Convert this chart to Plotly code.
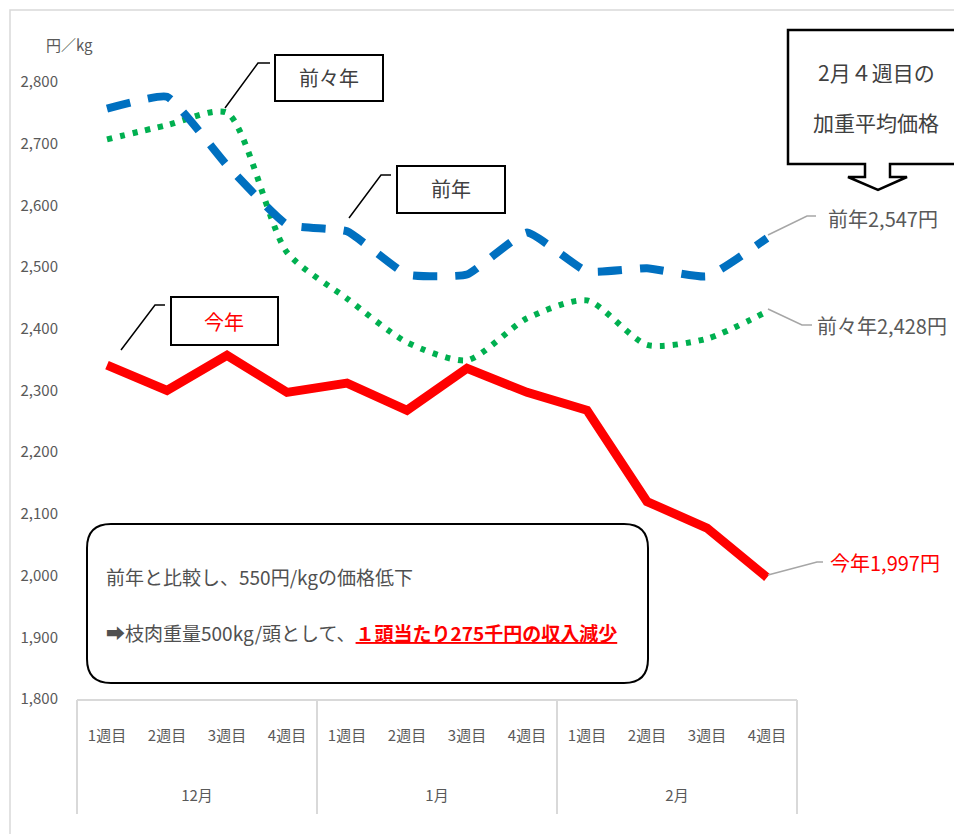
import plotly.graph_objects as go

# ---- data ----
months = ["12月"] * 4 + ["1月"] * 4 + ["2月"] * 4
weeks = ["1週目", "2週目", "3週目", "4週目"] * 3
month_names = ["12月", "1月", "2月"]
this_year = [2341, 2300, 2357, 2297, 2312, 2268, 2336, 2297, 2268, 2120, 2077, 1997]
last_year = [2757, 2776, 2665, 2569, 2558, 2488, 2488, 2556, 2493, 2498, 2485, 2547]
two_years_ago = [2707, 2730, 2750, 2524, 2449, 2378, 2349, 2417, 2446, 2374, 2384, 2428]
y_ticks = list(range(1800, 2801, 100))

categories = [f"{m} {w}" for m, w in zip(months, weeks)]
n = len(categories)
per_month = 4
month_centers = [i * per_month + (per_month - 1) / 2 for i in range(len(month_names))]
month_bounds = [i * per_month - 0.5 for i in range(len(month_names) + 1)]

FONT = "Noto Sans CJK JP, sans-serif"
GRAY = "#595959"
RED = "#FF0000"

OFF = 8  # page body margin
W, H = 962 - OFF, 834 - OFF
L, R, T, B = 77, 797, 82, 699  # plot area in page pixels


def px(x):
    return (x - L) / (R - L)


def py(y):
    return (B - y) / (B - T)


def path(points, close=False):
    s = "M " + " L ".join(f"{px(x):.5f},{py(y):.5f}" for x, y in points)
    return s + (" Z" if close else "")


fig = go.Figure()
fig.add_trace(go.Scatter(
    x=categories, y=two_years_ago, mode="lines", name="前々年",
    line=dict(color="#00B050", width=6, dash="5px,8px", shape="spline", smoothing=0.7),
))
fig.add_trace(go.Scatter(
    x=categories, y=last_year, mode="lines", name="前年",
    line=dict(color="#0070C0", width=8, dash="24px,18px", shape="spline", smoothing=0.4),
))
fig.add_trace(go.Scatter(
    x=categories, y=this_year, mode="lines", name="今年",
    line=dict(color=RED, width=9),
))
# empty helper traces so that the month-label axis and divider axis are drawn
fig.add_trace(go.Scatter(x=month_centers, y=[None] * len(month_centers), mode="lines",
                         xaxis="x2", hoverinfo="skip", showlegend=False))
fig.add_trace(go.Scatter(x=month_bounds, y=[None] * len(month_bounds), mode="lines",
                         xaxis="x3", hoverinfo="skip", showlegend=False))

shapes = []
shapes.append(dict(type="path", xref="paper", yref="paper",
                   path=path([(10, 850), (10, 10), (980, 10)]),
                   line=dict(color="#d9d9d9", width=1.5)))


def rect(x0, y0, x1, y1):
    return dict(type="rect", xref="paper", yref="paper",
                x0=px(x0), x1=px(x1), y0=py(y1), y1=py(y0),
                line=dict(color="black", width=2), fillcolor="white")


shapes.append(rect(275, 55, 383, 101))
shapes.append(rect(397, 166, 505, 213))
shapes.append(rect(171, 297, 278, 345))

for pts in ([(225, 108), (258, 63), (270, 63)],
            [(349, 218), (381, 175), (391, 175)],
            [(121, 350), (155, 305), (165, 305)]):
    shapes.append(dict(type="path", xref="paper", yref="paper", path=path(pts),
                       line=dict(color="black", width=1.5)))

callout = [(788, 30), (980, 30), (980, 164), (890, 164), (890, 177), (907, 177),
           (878, 190), (848, 177), (865, 177), (865, 164), (788, 164)]
shapes.append(dict(type="path", xref="paper", yref="paper", path=path(callout, True),
                   line=dict(color="black", width=2.5), fillcolor="white"))

for pts in ([(768, 235), (807, 216), (816, 216)],
            [(768, 309), (802, 325), (812, 325)],
            [(768, 575), (817, 562), (823, 562)]):
    shapes.append(dict(type="path", xref="paper", yref="paper", path=path(pts),
                       line=dict(color="#a6a6a6", width=1.5)))

x0, y0, x1, y1, r = 87, 524, 648, 683, 24
rp = (f"M {px(x0 + r):.5f},{py(y0):.5f} L {px(x1 - r):.5f},{py(y0):.5f} "
      f"Q {px(x1):.5f},{py(y0):.5f} {px(x1):.5f},{py(y0 + r):.5f} "
      f"L {px(x1):.5f},{py(y1 - r):.5f} "
      f"Q {px(x1):.5f},{py(y1):.5f} {px(x1 - r):.5f},{py(y1):.5f} "
      f"L {px(x0 + r):.5f},{py(y1):.5f} "
      f"Q {px(x0):.5f},{py(y1):.5f} {px(x0):.5f},{py(y1 - r):.5f} "
      f"L {px(x0):.5f},{py(y0 + r):.5f} "
      f"Q {px(x0):.5f},{py(y0):.5f} {px(x0 + r):.5f},{py(y0):.5f} Z")
shapes.append(dict(type="path", xref="paper", yref="paper", path=rp,
                   line=dict(color="black", width=2), fillcolor="white"))

annotations = []


def text(t, x, y, size, color=GRAY, anchor="center"):
    annotations.append(dict(text=t, xref="paper", yref="paper", x=px(x), y=py(y),
                            xanchor=anchor, yanchor="middle", showarrow=False,
                            font=dict(size=size, color=color, family=FONT)))


text("円／kg", 44, 45, 15, anchor="left")
text("前々年", 329, 78, 20, color="#404040")
text("前年", 451, 189, 20, color="#404040")
text("今年", 224, 321, 20, color=RED)
text("2月４週目の", 876, 72, 21, color="#404040")
text("加重平均価格", 876, 122, 21, color="#404040")
text("前年2,547円", 826, 218, 20, anchor="left")
text("前々年2,428円", 815, 325, 20, anchor="left")
text("今年1,997円", 828, 562, 20, color=RED, anchor="left")
text("前年と比較し、550円/kgの価格低下", 104, 576, 19, color="#505050", anchor="left")
text("➡枝肉重量500kg/頭として、<span style='color:#FF0000'><b><u>１頭当たり275千円の収入減少</u></b></span>",
     104, 632, 19, color="#505050", anchor="left")

xrange = [-0.5, n - 0.5]
fig.update_layout(
    width=W, height=H,
    margin=dict(l=L - OFF, r=(962 - R), t=T - OFF, b=(834 - B)),
    paper_bgcolor="white", plot_bgcolor="white",
    showlegend=False,
    font=dict(family=FONT, color=GRAY),
    shapes=shapes, annotations=annotations,
    xaxis=dict(type="category", categoryorder="array", categoryarray=categories,
               range=xrange, tickvals=categories, ticktext=weeks,
               showline=True, linecolor="#d9d9d9", linewidth=1.5,
               showgrid=False, zeroline=False, ticks="",
               tickfont=dict(size=15, color=GRAY, family=FONT),
               ticklabelstandoff=22),
    xaxis2=dict(overlaying="x", side="bottom", anchor="y", type="linear", range=xrange,
                tickvals=month_centers, ticktext=month_names,
                showline=False, showgrid=False, zeroline=False, ticks="",
                tickfont=dict(size=15, color=GRAY, family=FONT),
                ticklabelstandoff=86),
    xaxis3=dict(overlaying="x", side="bottom", anchor="y", type="linear", range=xrange,
                tickvals=month_bounds, showticklabels=False,
                showline=False, showgrid=False, zeroline=False,
                ticks="outside", ticklen=114, tickwidth=1.5, tickcolor="#d9d9d9"),
    yaxis=dict(range=[1800, 2800], tickvals=y_ticks, tickformat=",",
               showgrid=False, zeroline=False, showline=False, ticks="",
               tickfont=dict(size=15, color=GRAY, family=FONT),
               ticklabelstandoff=18),
)

fig.write_html("out.html")
